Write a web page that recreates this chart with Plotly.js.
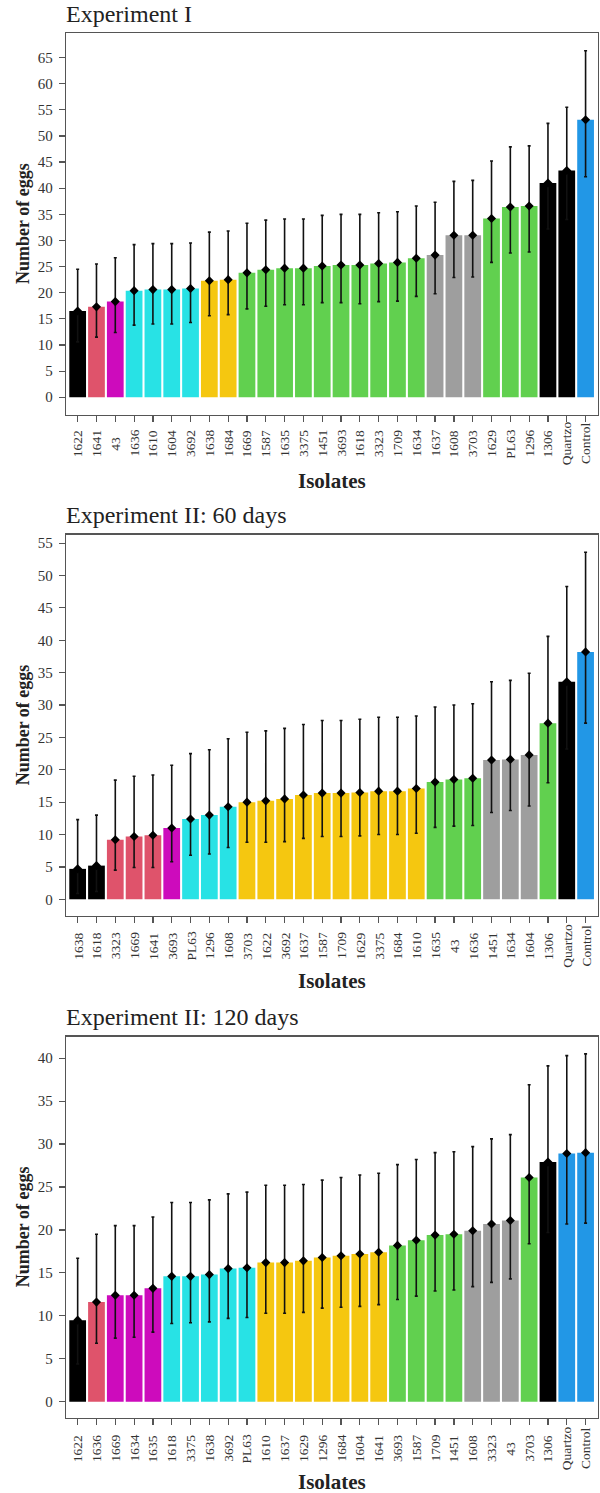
<!DOCTYPE html>
<html>
<head>
<meta charset="utf-8">
<script src="https://cdn.plot.ly/plotly-3.0.1.min.js"></script>
<style>
  html, body { margin: 0; padding: 0; background: #fff; }
  #chart { width: 600px; height: 1493px; }
</style>
</head>
<body>
<div id="chart"></div>
<script>
// ---- Experiment I ----
const isolates1 = ['1622','1641','43','1636','1610','1604','3692','1638','1684','1669','1587','1635','3375','1451','3693','1618','3323','1709','1634','1637','1608','3703','1629','PL63','1296','1306','Quartzo','Control'];
const means1 = [16.5,17.3,18.3,20.4,20.6,20.6,20.8,22.3,22.5,23.8,24.4,24.7,24.7,25.1,25.3,25.3,25.6,25.8,26.6,27.2,31.0,31.0,34.2,36.4,36.6,41.0,43.4,53.1];
const upper1 = [24.5,25.5,26.7,29.2,29.4,29.4,29.5,31.6,31.8,33.3,33.9,34.1,34.1,34.8,35.0,35.0,35.3,35.5,36.6,37.3,41.3,41.5,45.2,47.9,48.1,52.4,55.5,66.3];
const lower1 = [10.6,11.5,12.4,13.8,14.0,14.0,14.3,15.6,15.8,16.9,17.4,17.7,17.7,18.1,18.1,17.9,18.3,18.4,19.3,19.8,22.9,23.0,25.8,27.6,27.8,32.2,34.0,42.2];
const groups1 = ['k','r','m','c','c','c','c','y','y','g','g','g','g','g','g','g','g','g','g','a','a','a','g','g','g','k','k','b'];

// ---- Experiment II: 60 days ----
const isolates2 = ['1638','1618','3323','1669','1641','3693','PL63','1296','1608','3703','1622','3692','1637','1587','1709','1629','3375','1684','1610','1635','43','1636','1451','1634','1604','1306','Quartzo','Control'];
const means2 = [4.7,5.2,9.2,9.7,9.9,11.0,12.4,13.0,14.3,15.0,15.2,15.5,16.1,16.4,16.4,16.5,16.7,16.7,17.1,18.1,18.5,18.7,21.5,21.6,22.3,27.2,33.6,38.2];
const upper2 = [12.3,13.0,18.4,19.0,19.2,20.7,22.5,23.1,24.8,25.8,26.0,26.4,27.0,27.6,27.6,27.8,28.1,28.1,28.3,29.7,30.0,30.2,33.6,33.8,34.9,40.6,48.3,53.6];
const lower2 = [0.9,1.2,4.5,4.9,4.9,5.8,6.8,7.0,8.0,8.8,8.8,8.9,9.4,9.7,9.7,9.8,10.0,10.0,10.2,11.1,11.3,11.4,13.4,13.7,14.4,18.0,23.2,27.2];
const groups2 = ['k','k','r','r','r','m','c','c','c','y','y','y','y','y','y','y','y','y','y','g','g','g','a','a','a','g','k','b'];

// ---- Experiment II: 120 days ----
const isolates3 = ['1622','1636','1669','1634','1635','1618','3375','1638','3692','PL63','1610','1637','1629','1296','1684','1604','1641','3693','1587','1709','1451','1608','3323','43','3703','1306','Quartzo','Control'];
const means3 = [9.5,11.6,12.4,12.4,13.2,14.6,14.6,14.8,15.5,15.6,16.2,16.2,16.4,16.8,17.0,17.2,17.4,18.2,18.8,19.4,19.5,19.9,20.7,21.1,26.1,27.9,28.9,29.0];
const upper3 = [16.7,19.5,20.5,20.5,21.5,23.2,23.2,23.5,24.2,24.4,25.2,25.2,25.3,25.8,26.1,26.4,26.6,27.6,28.2,29.0,29.1,29.7,30.6,31.1,36.9,39.1,40.3,40.5];
const lower3 = [4.4,6.8,7.4,7.5,8.1,9.1,9.2,9.3,9.7,9.8,10.3,10.3,10.4,10.9,11.0,11.1,11.3,11.9,12.3,12.9,13.0,13.4,13.9,14.3,18.4,19.7,20.7,20.8];
const groups3 = ['k','r','m','m','m','c','c','c','c','c','y','y','y','y','y','y','y','g','g','g','g','a','a','a','g','k','b','b'];

const panelTitles = ['Experiment I', 'Experiment II: 60 days', 'Experiment II: 120 days'];
const yTitle = 'Number of eggs';
const xTitle = 'Isolates';

// Group colours (R 4 default palette)
const palette = { k: '#000000', r: '#DF536B', g: '#61D04F', b: '#2297E6', c: '#28E2E5', m: '#CD0BBC', y: '#F5C710', a: '#9E9E9E' };

const W = 600, H = 1493;
const FONT = 'Liberation Serif, Times New Roman, serif';
const py = (p) => 1 - p / H;   // pixel row -> paper fraction
const px = (p) => p / W;       // pixel column -> paper fraction

// Panel geometry in pixels: plot box top/bottom, y range, tick-label centre row, title row, x-title row
const panels = [
  { cats: isolates1, m: means1, up: upper1, lo: lower1, grp: groups1, top: 33,     bot: 415,    yr: [-3.4, 69.7],  labY: 443.5,  titleY: 14,   xtY: 481 },
  { cats: isolates2, m: means2, up: upper2, lo: lower2, grp: groups2, top: 534.7,  bot: 916,    yr: [-2.58, 56.3], labY: 946,    titleY: 515,  xtY: 981 },
  { cats: isolates3, m: means3, up: upper3, lo: lower3, grp: groups3, top: 1036.7, bot: 1417.7, yr: [-1.86, 42.5], labY: 1448.5, titleY: 1017, xtY: 1482 }
];

const plotL = 66, plotR = 598;
const traces = [];
const layout = {
  width: W, height: H,
  margin: { l: 0, r: 0, t: 0, b: 0, pad: 0 },
  paper_bgcolor: '#ffffff', plot_bgcolor: '#ffffff',
  showlegend: false,
  font: { family: FONT, color: '#222' },
  bargap: 0.11,
  annotations: []
};

panels.forEach((p, i) => {
  const n = i + 1;
  const xa = n === 1 ? 'x' : 'x' + n;
  const ya = n === 1 ? 'y' : 'y' + n;
  const xkey = n === 1 ? 'xaxis' : 'xaxis' + n;
  const ykey = n === 1 ? 'yaxis' : 'yaxis' + n;

  traces.push({
    type: 'bar', x: p.cats, y: p.m, xaxis: xa, yaxis: ya,
    marker: { color: p.grp.map(g => palette[g]), line: { width: 0 } },
    error_y: {
      type: 'data', symmetric: false,
      array: p.up.map((u, k) => u - p.m[k]),
      arrayminus: p.lo.map((l, k) => p.m[k] - l),
      color: '#111', thickness: 1.6, width: 1.5
    },
    hoverinfo: 'x+y'
  });
  traces.push({
    type: 'scatter', mode: 'markers', x: p.cats, y: p.m, xaxis: xa, yaxis: ya,
    marker: { symbol: 'diamond', size: 7, color: '#000' },
    hoverinfo: 'skip'
  });

  layout[xkey] = {
    domain: [px(plotL), px(plotR)], anchor: ya,
    type: 'category', categoryorder: 'array', categoryarray: p.cats,
    range: [-0.62, p.cats.length - 1 + 0.66],
    showline: true, mirror: true, linecolor: '#555', linewidth: 1.3,
    ticks: 'outside', ticklen: 6, tickwidth: 1.2, tickcolor: '#555',
    showticklabels: false, showgrid: false, zeroline: false, fixedrange: true
  };
  layout[ykey] = {
    domain: [py(p.bot), py(p.top)], anchor: xa,
    range: p.yr, tick0: 0, dtick: 5, tickmode: 'linear',
    showline: true, mirror: true, linecolor: '#555', linewidth: 1.3,
    ticks: 'outside', ticklen: 6, tickwidth: 1.2, tickcolor: '#555',
    tickfont: { family: FONT, size: 15, color: '#333' },
    ticklabelstandoff: 3,
    showgrid: false, zeroline: false, fixedrange: true
  };

  // Rotated isolate labels, centred under each category tick (x given as category index)
  p.cats.forEach((c, k) => {
    layout.annotations.push({
      xref: xa, yref: 'paper', x: k, y: py(p.labY),
      text: c, textangle: -90, showarrow: false,
      xanchor: 'center', yanchor: 'middle',
      font: { family: FONT, size: 13.5, color: '#333' }
    });
  });

  // Panel title
  layout.annotations.push({
    xref: 'paper', yref: 'paper', x: px(64), y: py(p.titleY),
    text: panelTitles[i], showarrow: false, xanchor: 'left', yanchor: 'middle',
    font: { family: FONT, size: 24, color: '#222' }
  });
  // Axis titles
  layout.annotations.push({
    xref: 'paper', yref: 'paper', x: px(23), y: py((p.top + p.bot) / 2),
    text: '<b>' + yTitle + '</b>', textangle: -90, showarrow: false,
    xanchor: 'center', yanchor: 'middle',
    font: { family: FONT, size: 18, color: '#222' }
  });
  layout.annotations.push({
    xref: 'paper', yref: 'paper', x: px((plotL + plotR) / 2), y: py(p.xtY),
    text: '<b>' + xTitle + '</b>', showarrow: false,
    xanchor: 'center', yanchor: 'middle',
    font: { family: FONT, size: 21, color: '#222' }
  });
});

Plotly.newPlot('chart', traces, layout, { displayModeBar: false, staticPlot: true });
</script>
</body>
</html>
